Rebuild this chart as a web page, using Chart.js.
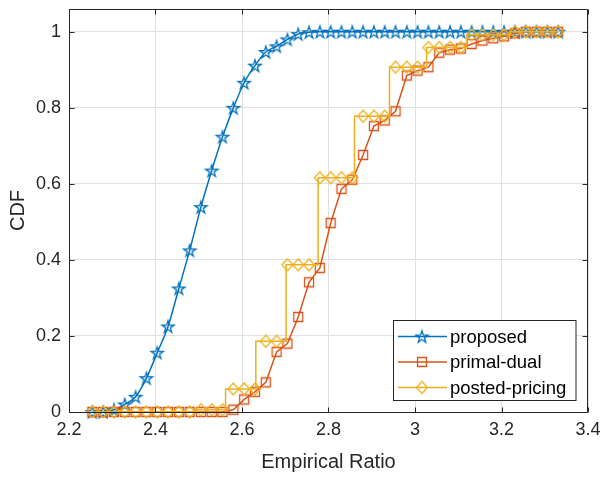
<!DOCTYPE html>
<html><head><meta charset="utf-8">
<script src="https://cdn.jsdelivr.net/npm/chart.js@4.4.1/dist/chart.umd.min.js"></script>
<style>html,body{margin:0;padding:0;background:#fff;}canvas{display:block;}</style>
</head><body>
<canvas id="c" width="602" height="477"></canvas>
<script>
const seriesNames = ['proposed', 'primal-dual', 'posted-pricing'];
const seriesColors = ['#0072BD', '#D95319', '#EDB120'];
const xGrid = [2.254, 2.279, 2.304, 2.329, 2.354, 2.379, 2.404, 2.429, 2.454, 2.479,
  2.505, 2.530, 2.555, 2.580, 2.605, 2.630, 2.655, 2.680, 2.705, 2.730,
  2.755, 2.780, 2.805, 2.830, 2.855, 2.880, 2.905, 2.930, 2.955, 2.981,
  3.006, 3.031, 3.056, 3.081, 3.106, 3.131, 3.156, 3.181, 3.206, 3.231,
  3.256, 3.281, 3.306, 3.331];
const proposed = [0, 0, 0.006, 0.02, 0.04, 0.089, 0.156, 0.225, 0.325, 0.425,
  0.539, 0.635, 0.724, 0.800, 0.866, 0.911, 0.947, 0.962, 0.980, 0.994,
  0.999, 1, 1, 1, 1, 1, 1, 1, 1, 1,
  1, 1, 1, 1, 1, 1, 1, 1, 1, 1,
  1, 1, 1, 1];
const primalDual = [0, 0, 0, 0, 0, 0, 0, 0, 0, 0,
  0, 0, 0, 0.006, 0.033, 0.053, 0.078, 0.158, 0.18, 0.25,
  0.341, 0.379, 0.497, 0.587, 0.611, 0.676, 0.752, 0.767, 0.791, 0.885,
  0.898, 0.907, 0.945, 0.953, 0.956, 0.968, 0.977, 0.983, 0.988, 0.996,
  1, 1, 1, 1];
const postedPricing = [0, 0, 0, 0, 0, 0, 0, 0, 0, 0,
  0.006, 0.006, 0.006, 0.0605, 0.0605, 0.0605, 0.186, 0.186, 0.387, 0.387,
  0.387, 0.616, 0.616, 0.616, 0.616, 0.778, 0.778, 0.778, 0.907, 0.907,
  0.907, 0.959, 0.959, 0.959, 0.959, 0.992, 0.992, 0.992, 0.992, 1,
  1, 1, 1, 1];
// step edges of the posted-pricing CDF (first entry = start of curve)
const postedBreaks = [2.254, 2.49, 2.562, 2.632, 2.702, 2.776, 2.86, 2.941, 3.027, 3.12, 3.22];
const postedLevels = [0, 0.006, 0.0605, 0.186, 0.387, 0.616, 0.778, 0.907, 0.959, 0.992, 1];
const postedEnd = 3.331;
const xTicks = [2.2, 2.4, 2.6, 2.8, 3.0, 3.2, 3.4];
const xTickLabels = ['2.2', '2.4', '2.6', '2.8', '3', '3.2', '3.4'];
const yTicks = [0, 0.2, 0.4, 0.6, 0.8, 1];
const yTickLabels = ['0', '0.2', '0.4', '0.6', '0.8', '1'];
const xLabel = 'Empirical Ratio';
const yLabel = 'CDF';

const FONT = "'Liberation Sans', Arial, Helvetica, sans-serif";
const TXT = '#262626';

function makeMarker(kind, color) {
  const s = 18, m = s / 2;
  const c = document.createElement('canvas');
  c.width = s; c.height = s;
  const g = c.getContext('2d');
  g.strokeStyle = color; g.lineWidth = 1.3; g.lineJoin = 'miter';
  g.beginPath();
  if (kind === 'star') {
    const R = 6.4, r = R * 0.382;
    for (let k = 0; k < 10; k++) {
      const a = -Math.PI / 2 + k * Math.PI / 5;
      const rr = k % 2 ? r : R;
      const px = m + rr * Math.cos(a), py = m + 0.6 + rr * Math.sin(a);
      if (k) g.lineTo(px, py); else g.moveTo(px, py);
    }
    g.closePath();
  } else if (kind === 'square') {
    g.rect(m - 4.5, m - 4.5, 9, 9);
  } else {
    g.moveTo(m, m - 6); g.lineTo(m + 5.5, m); g.lineTo(m, m + 6); g.lineTo(m - 5.5, m); g.closePath();
  }
  g.stroke();
  return c;
}
const markers = [makeMarker('star', seriesColors[0]), makeMarker('square', seriesColors[1]), makeMarker('diamond', seriesColors[2])];

const toPts = ys => xGrid.map((x, i) => ({x: x, y: ys[i]}));
const postedLine = [{x: postedBreaks[0], y: postedLevels[0]}];
for (let k = 1; k < postedBreaks.length; k++) {
  postedLine.push({x: postedBreaks[k], y: postedLevels[k - 1]});
  postedLine.push({x: postedBreaks[k], y: postedLevels[k]});
}
postedLine.push({x: postedEnd, y: postedLevels[postedLevels.length - 1]});

const boxPlugin = {
  id: 'boxTicks',
  afterDraw(chart) {
    const {ctx, chartArea: a, scales} = chart;
    ctx.save();
    ctx.strokeStyle = TXT; ctx.lineWidth = 1;
    const L = Math.round(a.left) + 0.5, R = Math.round(a.right) - 0.5;
    const T = Math.round(a.top) + 0.5, B = Math.round(a.bottom) + 0.5;
    ctx.beginPath();
    ctx.rect(L, T, R - L, B - T);
    const tl = 5;
    xTicks.forEach(v => {
      const px = Math.round(scales.x.getPixelForValue(v)) + 0.5;
      ctx.moveTo(px, B); ctx.lineTo(px, B - tl);
      ctx.moveTo(px, T); ctx.lineTo(px, T + tl);
    });
    yTicks.forEach(v => {
      const py = Math.round(scales.y.getPixelForValue(v)) + 0.5;
      ctx.moveTo(L, py); ctx.lineTo(L + tl, py);
      ctx.moveTo(R, py); ctx.lineTo(R - tl, py);
    });
    ctx.stroke();

    // legend
    const bx = 393.5, by = 320.5, bw = 182.5, bh = 80;
    ctx.fillStyle = '#ffffff';
    ctx.fillRect(bx, by, bw, bh);
    ctx.strokeStyle = TXT;
    ctx.strokeRect(bx, by, bw, bh);
    const rows = [336.5, 362, 387.5];
    ctx.font = '18.5px ' + FONT;
    ctx.textBaseline = 'middle';
    ctx.textAlign = 'left';
    seriesNames.forEach((name, i) => {
      const y = rows[i];
      ctx.strokeStyle = seriesColors[i]; ctx.lineWidth = 1.5;
      ctx.beginPath(); ctx.moveTo(398, y); ctx.lineTo(447, y); ctx.stroke();
      ctx.drawImage(markers[i], 422 - markers[i].width / 2, y - markers[i].height / 2);
      ctx.fillStyle = '#000000';
      ctx.fillText(name, 450, y + 1);
    });
    ctx.restore();
  }
};

new Chart(document.getElementById('c'), {
  type: 'scatter',
  data: {
    datasets: [
      {label: seriesNames[2] + ' markers', data: toPts(postedPricing), showLine: false,
        pointStyle: markers[2], pointRadius: 5, order: 0, clip: false},
      {label: seriesNames[2], data: postedLine, showLine: true, borderColor: seriesColors[2],
        borderWidth: 1.5, pointRadius: 0, tension: 0, order: 1, clip: false},
      {label: seriesNames[1], data: toPts(primalDual), showLine: true, borderColor: seriesColors[1],
        borderWidth: 1.5, pointStyle: markers[1], pointRadius: 5, tension: 0, order: 2, clip: false},
      {label: seriesNames[0], data: toPts(proposed), showLine: true, borderColor: seriesColors[0],
        borderWidth: 1.5, pointStyle: markers[0], pointRadius: 5, cubicInterpolationMode: 'monotone',
        order: 3, clip: false}
    ]
  },
  options: {
    responsive: false,
    animation: false,
    devicePixelRatio: 1,
    layout: {padding: {top: 9, right: 14, left: 0, bottom: 0}},
    plugins: {legend: {display: false}, tooltip: {enabled: false}},
    scales: {
      x: {
        type: 'linear', min: 2.2, max: 3.4,
        afterBuildTicks: s => { s.ticks = xTicks.map(v => ({value: v})); },
        afterFit: s => { s.height = 65; s.paddingLeft = 0; s.paddingRight = 0; },
        ticks: {callback: (v, i) => xTickLabels[i], font: {family: FONT, size: 18}, color: TXT,
          padding: 7, maxRotation: 0, autoSkip: false},
        grid: {color: '#e0e0e0', lineWidth: 1, drawTicks: false},
        border: {display: false},
        title: {display: true, text: xLabel, font: {family: FONT, size: 20}, color: TXT,
          padding: {top: 0, bottom: 3}}
      },
      y: {
        type: 'linear', min: 0, max: 1.06,
        afterBuildTicks: s => { s.ticks = yTicks.map(v => ({value: v})); },
        afterFit: s => { s.width = 69; s.paddingTop = 0; s.paddingBottom = 0; },
        ticks: {callback: (v, i) => yTickLabels[i], font: {family: FONT, size: 18}, color: TXT,
          padding: 8, autoSkip: false},
        grid: {color: '#e0e0e0', lineWidth: 1, drawTicks: false},
        border: {display: false},
        title: {display: true, text: yLabel, font: {family: FONT, size: 20}, color: TXT,
          padding: {top: 6, bottom: 0}}
      }
    }
  },
  plugins: [boxPlugin]
});
</script>
</body></html>
